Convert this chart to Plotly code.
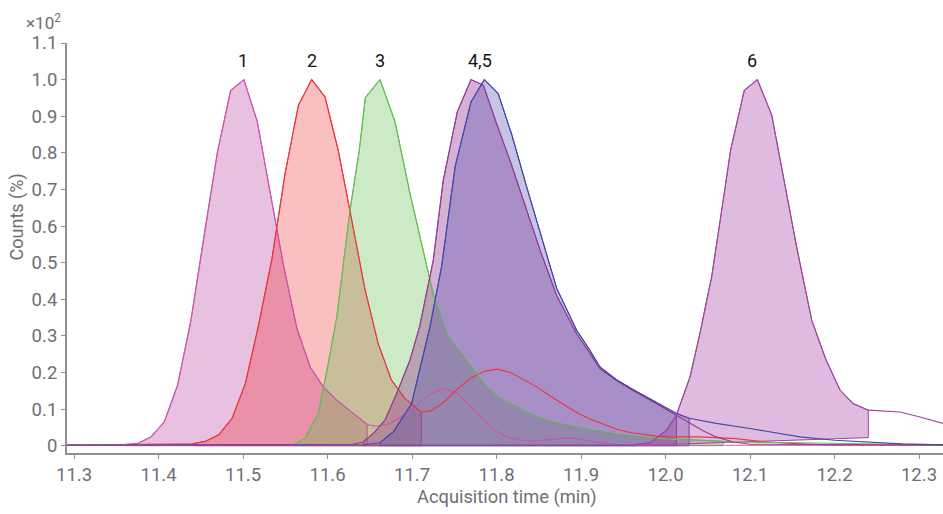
import plotly.graph_objects as go

# ---------------- data ----------------
P1_t = [11.29, 11.3597, 11.3754, 11.3911, 11.4068, 11.4225, 11.4382, 11.4539, 11.4696, 11.4853, 11.501,
        11.5167, 11.5324, 11.5481, 11.5638, 11.5795, 11.5952, 11.6109, 11.6266, 11.647, 11.658, 11.6737,
        11.6894, 11.7051, 11.7208, 11.7365, 11.7522, 11.7679, 11.7836, 11.7993, 11.815, 11.8307, 11.8464,
        11.8621, 11.8778, 11.8935, 11.9092, 11.9249, 11.9406, 11.97, 12.1, 12.33]
P1_v = [0.002, 0.003, 0.006, 0.024, 0.065, 0.165, 0.34, 0.575, 0.80, 0.97, 1.0,
        0.887, 0.69, 0.49, 0.32, 0.215, 0.16, 0.125, 0.095, 0.058, 0.053, 0.06,
        0.083, 0.11, 0.14, 0.157, 0.145, 0.11, 0.072, 0.04, 0.022, 0.014, 0.013,
        0.016, 0.02, 0.02, 0.013, 0.007, 0.004, 0.002, 0.001, 0.001]

P2_t = [11.29, 11.42, 11.44, 11.4557, 11.4714, 11.4871, 11.5028, 11.5185, 11.5342, 11.5499, 11.5656,
        11.5813, 11.597, 11.6127, 11.6284, 11.6441, 11.6598, 11.6755, 11.6912, 11.711, 11.7226, 11.7383,
        11.754, 11.7697, 11.7854, 11.8011, 11.8168, 11.8325, 11.8482, 11.8639, 11.8796, 11.8953, 11.911,
        11.9267, 11.9424, 11.9581, 11.9738, 11.9895, 12.0052, 12.04, 12.08, 12.12, 12.16, 12.2, 12.33]
P2_v = [0.002, 0.003, 0.005, 0.012, 0.03, 0.075, 0.17, 0.33, 0.51, 0.745, 0.93,
        1.0, 0.953, 0.807, 0.62, 0.43, 0.28, 0.18, 0.13, 0.092, 0.095, 0.12,
        0.155, 0.185, 0.203, 0.209, 0.2, 0.18, 0.16, 0.135, 0.112, 0.09, 0.072,
        0.058, 0.045, 0.036, 0.03, 0.026, 0.024, 0.024, 0.02, 0.01, 0.005, 0.002, 0.002]

P3_t = [11.29, 11.54, 11.56, 11.5734, 11.589, 11.5993, 11.611, 11.6207, 11.6266, 11.6376, 11.6448,
        11.6621, 11.6799, 11.6976, 11.7154, 11.725, 11.741, 11.749, 11.7645, 11.788, 11.804, 11.824,
        11.8415, 11.859, 11.88, 11.903, 11.9225, 11.942, 11.962, 12.0, 12.041, 12.068, 12.08, 12.16,
        12.25, 12.33]
P3_v = [0.002, 0.002, 0.003, 0.02, 0.088, 0.205, 0.352, 0.534, 0.643, 0.807, 0.951,
        1.0, 0.885, 0.689, 0.507, 0.416, 0.307, 0.279, 0.234, 0.161, 0.13, 0.106,
        0.085, 0.07, 0.057, 0.047, 0.038, 0.031, 0.026, 0.018, 0.015, 0.012, 0.01, 0.008,
        0.005, 0.002]

P4_t = [11.29, 11.6, 11.63, 11.642, 11.655, 11.668, 11.682, 11.6976, 11.709, 11.7252, 11.737,
        11.7536, 11.7698, 11.7844, 11.8, 11.8166, 11.8317, 11.8515, 11.8712, 11.8949, 11.9107, 11.9225,
        11.942, 11.962, 11.9817, 12.0, 12.013, 12.03, 12.045, 12.06, 12.08, 12.1, 12.33]
P4_v = [0.001, 0.002, 0.004, 0.01, 0.035, 0.07, 0.143, 0.234, 0.325, 0.507, 0.725,
        0.912, 1.0, 0.985, 0.88, 0.775, 0.67, 0.535, 0.41, 0.305, 0.252, 0.21,
        0.178, 0.15, 0.125, 0.1, 0.083, 0.06, 0.04, 0.024, 0.01, 0.004, 0.002]

P5_t = [11.29, 11.64, 11.662, 11.678, 11.6995, 11.7115, 11.7213, 11.735, 11.751, 11.7698, 11.7856,
        11.802, 11.818, 11.8357, 11.853, 11.8712, 11.8949, 11.9107, 11.9225, 11.942, 11.962, 11.9817,
        12.0, 12.013, 12.028, 12.06, 12.1, 12.13, 12.159, 12.2, 12.238, 12.28, 12.33]
P5_v = [0.001, 0.002, 0.008, 0.038, 0.115, 0.234, 0.325, 0.489, 0.762, 0.939, 1.0,
        0.962, 0.85, 0.707, 0.57, 0.43, 0.315, 0.26, 0.215, 0.18, 0.153, 0.128,
        0.105, 0.088, 0.075, 0.061, 0.047, 0.035, 0.024, 0.015, 0.01, 0.005, 0.002]

P6_t = [11.29, 11.9, 11.962, 11.9817, 12.0013, 12.0128, 12.029, 12.0408, 12.0487, 12.0546, 12.0665,
        12.077, 12.0933, 12.1087, 12.1257, 12.1414, 12.1552, 12.173, 12.19, 12.2065, 12.222, 12.24,
        12.2775, 12.3, 12.33]
P6_v = [0.001, 0.001, 0.002, 0.008, 0.042, 0.083, 0.188, 0.307, 0.398, 0.461, 0.643,
        0.807, 0.971, 1.0, 0.903, 0.707, 0.543, 0.343, 0.234, 0.152, 0.115, 0.097,
        0.092, 0.079, 0.06]

# integration windows (start, end) and baseline values at those ends
FILL_RANGES = [(11.3597, 11.647), (11.44, 11.711), (11.56, 12.068),
               (11.642, 12.013), (11.662, 12.028), (11.962, 12.24)]
FILL_BASES = [(0, 0), (0, 0), (0, 0), (0, 0), (0, 0), (0, 0.022)]

PEAK_LABELS = ["1", "2", "3", "4,5", "6"]
PEAK_LABEL_X = [11.5, 11.5817, 11.662, 11.7805, 12.1024]

Y_TICKS = [0, 0.1, 0.2, 0.3, 0.4, 0.5, 0.6, 0.7, 0.8, 0.9, 1.0, 1.1]
Y_TICKTEXT = ["0", "0.1", "0.2", "0.3", "0.4", "0.5", "0.6", "0.7", "0.8", "0.9", "1.0", "1.1"]
X_TICKS = [11.3, 11.4, 11.5, 11.6, 11.7, 11.8, 11.9, 12.0, 12.1, 12.2, 12.3]
X_TICKTEXT = ["11.3", "11.4", "11.5", "11.6", "11.7", "11.8", "11.9", "12.0", "12.1", "12.2", "12.3"]

# ---------------- styling ----------------
LINE_COLORS = ["#c954ae", "#ee343e", "#66bc55", "#983a98", "#4646a8", "#a044a0"]
FILL_COLORS = ["rgba(190,80,170,0.36)", "rgba(235,20,20,0.27)", "rgba(100,190,80,0.33)",
               "rgba(150,60,150,0.40)", "rgba(78,70,170,0.32)", "rgba(165,70,165,0.36)"]

series = [(P1_t, P1_v), (P2_t, P2_v), (P3_t, P3_v), (P4_t, P4_v), (P5_t, P5_v), (P6_t, P6_v)]

fig = go.Figure()
# integration areas first
for i, (t, v) in enumerate(series):
    a, b = FILL_RANGES[i]
    b0, b1 = FILL_BASES[i]
    xs = [tt for tt in t if a <= tt <= b]
    ys = [vv for tt, vv in zip(t, v) if a <= tt <= b]
    px = xs + [b, a, xs[0]]
    py = ys + [b1, b0, ys[0]]
    fig.add_trace(go.Scatter(x=px, y=py, mode="lines", fill="toself",
                             fillcolor=FILL_COLORS[i],
                             line=dict(color=LINE_COLORS[i], width=1),
                             hoverinfo="skip", showlegend=False))
# chromatogram traces on top
for i, (t, v) in enumerate(series):
    fig.add_trace(go.Scatter(x=t, y=v, mode="lines",
                             line=dict(color=LINE_COLORS[i], width=1.1),
                             showlegend=False))

TICK_FONT = dict(family="Roboto", size=18.5, color="#6e6e78")
AX_COLOR = "#8e8e96"

annotations = []
for lab, x in zip(PEAK_LABELS, PEAK_LABEL_X):
    annotations.append(dict(x=x, y=1.052, xref="x", yref="y", text=lab, showarrow=False,
                            font=dict(family="Roboto", size=18, color="#151515"),
                            xanchor="center", yanchor="middle"))
annotations.append(dict(x=-0.049, y=1.05, xref="paper", yref="paper",
                        text="×10<sup>2</sup>", showarrow=False,
                        font=dict(family="Roboto", size=17, color="#6e6e78"),
                        xanchor="left", yanchor="middle"))
annotations.append(dict(x=-0.0571, y=0.577, xref="paper", yref="paper",
                        text="Counts (%)", textangle=-90, showarrow=False,
                        font=dict(family="Roboto", size=18, color="#6e6e78"),
                        xanchor="center", yanchor="middle"))
annotations.append(dict(x=0.5023, y=-0.108, xref="paper", yref="paper",
                        text="Acquisition time (min)", showarrow=False,
                        font=dict(family="Roboto", size=18.3, color="#6e6e78"),
                        xanchor="center", yanchor="middle"))

fig.update_layout(
    width=943, height=514,
    margin=dict(l=67, r=0, t=43, b=61),
    paper_bgcolor="white", plot_bgcolor="white",
    xaxis=dict(range=[11.2917, 12.3284], tickvals=X_TICKS, ticktext=X_TICKTEXT,
               showgrid=False, zeroline=False, showline=True, linecolor=AX_COLOR, linewidth=2,
               ticks="outside", ticklen=4, tickwidth=1, tickcolor=AX_COLOR,
               tickfont=TICK_FONT),
    yaxis=dict(range=[-0.02, 1.1], tickvals=Y_TICKS, ticktext=Y_TICKTEXT,
               showgrid=False, zeroline=False, showline=True, linecolor=AX_COLOR, linewidth=2,
               ticks="outside", ticklen=4, tickwidth=1, tickcolor=AX_COLOR,
               tickfont=TICK_FONT),
    annotations=annotations,
)

fig.write_html("out.html",
               config={"displayModeBar": False},
               post_script="document.body.style.margin='0';document.body.style.overflow='hidden';")
